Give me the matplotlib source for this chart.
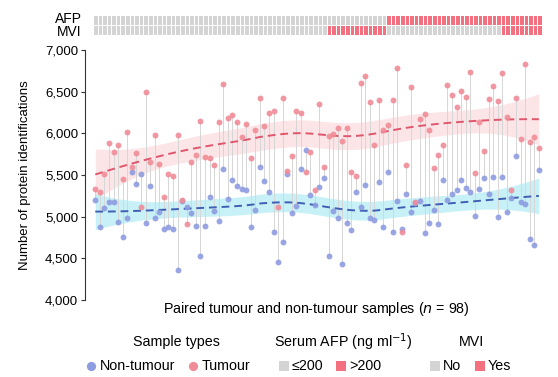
import numpy as np
import matplotlib
matplotlib.use("Agg")
import matplotlib.pyplot as plt
from matplotlib.colors import ListedColormap

plt.rcParams["font.family"] = ["Liberation Sans", "DejaVu Sans"]

# paired samples, ordered as in the figure
tumour = [5330, 5290, 5510, 5880, 5770, 5865, 5450, 6020, 5590, 5760,
          5115, 6500, 5660, 5975, 5635, 5230, 5510, 5490, 5985, 5195,
          4910, 5650, 5735, 6150, 5715, 5700, 5625, 6135, 6590, 6185,
          6215, 6140, 5950, 6110, 5700, 6035, 6425, 6090, 6245, 6270,
          5120, 6430, 5545, 5730, 6270, 6250, 5530, 5770, 5325, 6355,
          5600, 5970, 5990, 6065, 5910, 6065, 5540, 5485, 6600, 6690,
          6380, 5855, 6395, 6040, 6095, 6395, 6790, 4820, 5615, 6560,
          5170, 6170, 6230, 6035, 5585, 5740, 5855, 6580, 6460, 6315,
          6505, 6440, 6740, 5520, 6135, 5785, 6415, 6570, 6390, 6730,
          6200, 5315, 6430, 5935, 6835, 5890, 5950, 5820]
non_tumour = [5195, 4870, 5105, 5170, 5180, 4930, 4750, 4985, 5530, 5390,
              5515, 4920, 5370, 4985, 5050, 4850, 4870, 4850, 4360, 5185,
              5115, 5040, 4890, 4530, 4890, 5230, 5065, 4950, 5570, 5215,
              5445, 5365, 5330, 5320, 4870, 5085, 5600, 5425, 5300, 4810,
              4455, 4700, 5510, 5040, 5130, 5575, 5800, 5265, 5145, 5350,
              5460, 4530, 5065, 4985, 4430, 4920, 4845, 5295, 5110, 5375,
              4980, 4960, 5415, 4880, 5530, 4810, 5185, 4850, 5270, 5050,
              5160, 5185, 4800, 4925, 5080, 4910, 5440, 5200, 5270, 5325,
              5435, 5345, 5290, 5005, 5330, 5460, 5270, 5480, 4990, 5480,
              5055, 5220, 5730, 5180, 5155, 4730, 4660, 5555]
# 1 = serum AFP > 200 / MVI yes
afp_high = [0] * 64 + [1] * 34
mvi_yes = [0] * 51 + [1] * 13 + [0] * 25 + [1] * 9
row_labels = ["AFP", "MVI"]

yticks = [4000, 4500, 5000, 5500, 6000, 6500, 7000]

c_tum = "#f08c98"
c_non = "#8e9ce0"
c_tum_line = "#e0566c"
c_non_line = "#3f5fb5"
c_tum_band = "#fcdfe2"
c_non_band = "#b9eef5"
c_grey = "#d4d4d4"
c_red = "#f2707f"


def loess(x, y, span=0.75):
    # local quadratic fit with tricube weights, plus pointwise standard error
    n = len(x)
    k = int(np.ceil(span * n))
    L = np.zeros((n, n))
    for j, x0 in enumerate(x):
        d = np.abs(x - x0)
        h = np.sort(d)[k - 1] * 1.0001
        w = np.clip(1 - (d / h) ** 3, 0, None) ** 3
        X = np.column_stack([np.ones(n), x - x0, (x - x0) ** 2])
        XtW = X.T * w
        L[j] = np.linalg.solve(XtW @ X, XtW)[0]
    fit = L @ y
    resid = y - fit
    R = np.eye(n) - L
    sigma = np.sqrt(resid @ resid / np.trace(R.T @ R))
    se = sigma * np.sqrt((L ** 2).sum(axis=1))
    return fit, se


W, H = 558, 377
fig = plt.figure(figsize=(W / 100, H / 100), dpi=100)


def px_axes(x0, y0, x1, y1):
    return fig.add_axes([x0 / W, 1 - y1 / H, (x1 - x0) / W, (y1 - y0) / H])


x = np.arange(len(tumour), dtype=float)
yt = np.array(tumour, dtype=float)
yn = np.array(non_tumour, dtype=float)

ax = px_axes(85, 50, 548, 300)
ax.set_xlim(-2.25, 99)
ax.set_ylim(4000, 7000)

for yy, band, line in [(yt, c_tum_band, c_tum_line), (yn, c_non_band, c_non_line)]:
    fit, se = loess(x, yy, span=0.75)
    ax.fill_between(x, fit - 1.96 * se, fit + 1.96 * se, color=band, alpha=0.8, lw=0, zorder=1)
    ax.plot(x, fit, color=line, lw=1.4, ls=(0, (4, 2.5)), zorder=3)

ax.vlines(x, np.minimum(yt, yn), np.maximum(yt, yn), color="#d6d6d6", lw=0.7, zorder=2)
ax.scatter(x, yn, s=18, color=c_non, alpha=0.9, lw=0, zorder=4)
ax.scatter(x, yt, s=18, color=c_tum, alpha=0.9, lw=0, zorder=5)

for s in ["top", "right", "bottom"]:
    ax.spines[s].set_visible(False)
ax.spines["left"].set_color("#333333")
ax.spines["left"].set_linewidth(0.8)
ax.set_xticks([])
ax.set_yticks(yticks)
ax.set_yticklabels([f"{v:,}" for v in yticks], fontsize=9.5)
ax.tick_params(axis="y", length=3, width=0.8, color="#333333", pad=2)
ax.set_ylabel("Number of protein identifications", fontsize=9.5, labelpad=10)
ax.set_xlabel("Paired tumour and non-tumour samples ($n$ = 98)", fontsize=10.3, labelpad=0)
ax.patch.set_alpha(0)

# annotation bars on top
hx = px_axes(93, 15, 542, 35)
grid = np.array([afp_high, mvi_yes])
hx.pcolormesh(grid, cmap=ListedColormap([c_grey, c_red]), vmin=0, vmax=1,
              edgecolors="white", linewidth=0.6)
hx.set_ylim(2, 0)
hx.set_xlim(0, len(afp_high))
hx.axis("off")
fig.text(82 / W, 1 - 25.5 / H, "\n".join(row_labels), ha="right", va="center",
         multialignment="right", fontsize=10, linespacing=0.82)

# legend
lg = px_axes(0, 0, W, H)
lg.set_xlim(0, W)
lg.set_ylim(H, 0)
lg.axis("off")
title_y, item_y = 342, 366
fs = 10.3
lg.text(176, title_y, "Sample types", ha="center", va="center", fontsize=fs)
lg.text(343, title_y, "Serum AFP (ng ml$^{-1}$)", ha="center", va="center", fontsize=fs)
lg.text(471, title_y, "MVI", ha="center", va="center", fontsize=fs)
lg.scatter([91], [item_y], s=44, color=c_non, lw=0)
lg.text(100, item_y, "Non-tumour", ha="left", va="center", fontsize=fs)
lg.scatter([193], [item_y], s=44, color=c_tum, lw=0)
lg.text(202, item_y, "Tumour", ha="left", va="center", fontsize=fs)
sq = 10
for cx, col, lab in [(284, c_grey, "≤200"), (341, c_red, ">200"),
                     (435, c_grey, "No"), (480, c_red, "Yes")]:
    lg.add_patch(plt.Rectangle((cx - sq / 2, item_y - sq / 2), sq, sq, color=col, lw=0))
    lg.text(cx + 8, item_y, lab, ha="left", va="center", fontsize=fs)

fig.savefig("out.png", dpi=100)
